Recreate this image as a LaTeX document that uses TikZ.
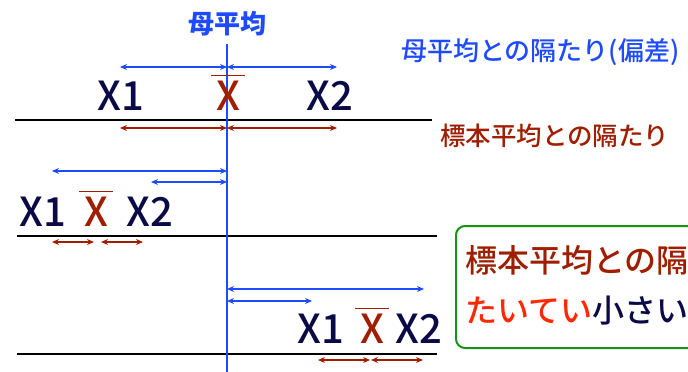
\documentclass[tikz,border=0pt]{standalone}
\usepackage{fontspec}
\setmainfont{Noto Sans CJK JP}
\newfontfamily\medfont{Noto Sans CJK JP Medium}
\usetikzlibrary{arrows.meta}
\definecolor{cblue}{RGB}{30,75,255}
\definecolor{cred}{RGB}{160,30,0}
\definecolor{cnavy}{RGB}{10,10,70}
\definecolor{cgreen}{RGB}{20,150,20}
\definecolor{corange}{RGB}{255,40,0}
\tikzset{
  xlab/.style={inner sep=0pt, anchor=base, text=cnavy, font=\medfont\fontsize{40}{40}\selectfont},
  xbar/.style={xlab, text=cred},
  barline/.style={draw=cred, line width=1.2pt},
  baseline/.style={draw=black, line width=2.5pt},
  bluearr/.style={draw=cblue, line width=1.5pt, {Stealth[length=7pt,width=6pt]}-{Stealth[length=7pt,width=6pt]}},
  redarr/.style={draw=cred, line width=1.5pt, {Stealth[length=7pt,width=6pt]}-{Stealth[length=7pt,width=6pt]}},
  jlab/.style={inner sep=0pt}
}
\begin{document}
\begin{tikzpicture}[x=1pt,y=-1pt]
\useasboundingbox (0,0) rectangle (688,372);
\clip (0,0) rectangle (688,372);
% horizontal base lines
\draw[baseline] (15,120) coordinate (l1a) -- (432,120) coordinate (l1b);
\draw[baseline] (17,236) coordinate (l2a) -- (437,236) coordinate (l2b);
\draw[baseline] (17,354) coordinate (l3a) -- (437,354) coordinate (l3b);
% population mean line
\coordinate (mt) at (227,44);
\coordinate (mb) at (227,372);
\draw[draw=cblue, line width=2.5pt] (mt) -- (mb);
\node[jlab, text=cblue, anchor=center, font=\fontsize{26}{26}\selectfont\bfseries] (pm) at (227,23.5) {母平均};
\node[jlab, text=cblue, anchor=base west, font=\medfont\fontsize{26}{26}\selectfont] (dev) at (401,60) {母平均との隔たり(偏差)};
\node[jlab, text=cred, anchor=base west, font=\medfont\fontsize{25.5}{25.5}\selectfont] (sdev) at (440,145) {標本平均との隔たり};
% panel 1
\node[xlab] (a1) at (121,110) {X1};
\node[xbar] (ab) at (228,110) {X};
\node[xlab] (a2) at (330,110) {X2};
\draw[barline] ([shift={(-5pt,5pt)}]ab.north west) -- ([shift={(5pt,5pt)}]ab.north east);
\coordinate (p1l) at (120,67); \coordinate (p1m) at (227,67); \coordinate (p1r) at (337,67);
\draw[bluearr] (p1l) -- (p1m);
\draw[bluearr] (p1m) -- (p1r);
\coordinate (q1l) at (120,128); \coordinate (q1m) at (227,128); \coordinate (q1r) at (337,128);
\draw[redarr] (q1l) -- (q1m);
\draw[redarr] (q1m) -- (q1r);
% panel 2
\node[xlab] (b1) at (43,226) {X1};
\node[xbar] (bb) at (96,226) {X};
\node[xlab] (b2) at (150,226) {X2};
\draw[barline] ([shift={(-5pt,5pt)}]bb.north west) -- ([shift={(5pt,5pt)}]bb.north east);
\coordinate (p2a) at (52,171); \coordinate (p2m) at (227,171);
\coordinate (p2b) at (151,182); \coordinate (p2n) at (227,182);
\draw[bluearr] (p2a) -- (p2m);
\draw[bluearr] (p2b) -- (p2n);
\coordinate (q2a) at (52,242); \coordinate (q2b) at (94,242);
\coordinate (q2c) at (101,242); \coordinate (q2d) at (143,242);
\draw[redarr] (q2a) -- (q2b);
\draw[redarr] (q2c) -- (q2d);
% panel 3
\node[xlab] (c1) at (321,343) {X1};
\node[xbar] (cb) at (372,343) {X};
\node[xlab] (c2) at (419,343) {X2};
\draw[barline] ([shift={(-5pt,5pt)}]cb.north west) -- ([shift={(5pt,5pt)}]cb.north east);
\coordinate (p3m) at (227,289); \coordinate (p3a) at (424,289);
\coordinate (p3n) at (227,301); \coordinate (p3b) at (312,301);
\draw[bluearr] (p3m) -- (p3a);
\draw[bluearr] (p3n) -- (p3b);
\coordinate (q3a) at (318,360); \coordinate (q3b) at (370,360);
\coordinate (q3c) at (371,360); \coordinate (q3d) at (423,360);
\draw[redarr] (q3a) -- (q3b);
\draw[redarr] (q3c) -- (q3d);
% green box
\draw[draw=cgreen, line width=2pt, rounded corners=9pt, fill=white] (456,226) rectangle (760,348);
\node[jlab, anchor=base west, text=cred, font=\medfont\fontsize{32}{32}\selectfont] (bx1) at (465,272) {標本平均との隔たりは};
\node[jlab, anchor=base west, font=\medfont\fontsize{32}{32}\selectfont] (bx2) at (465,322) {\textcolor{corange}{たいてい}\textcolor{cnavy}{小さい}};
\end{tikzpicture}
\end{document}
